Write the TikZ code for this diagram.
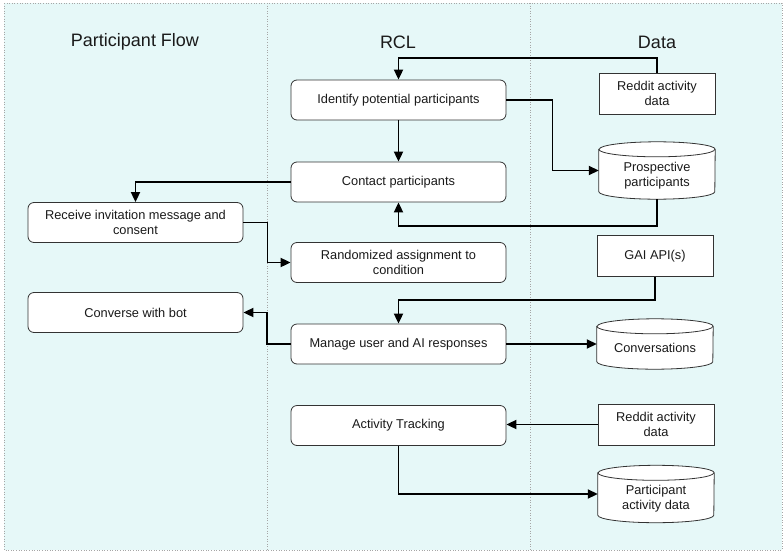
\documentclass[tikz,border=0pt]{standalone}
\usepackage{fontspec}
\setmainfont{Liberation Sans}
\usetikzlibrary{arrows.meta,calc}
\definecolor{bgc}{HTML}{E6F8F8}
\definecolor{edge}{HTML}{333333}
\definecolor{txt}{HTML}{1A1A1A}
\tikzset{
  proc/.style={draw=edge, line width=0.8pt, fill=white, rounded corners=6pt, minimum width=215pt, minimum height=40pt, align=center, font=\fontsize{12.8}{15}\selectfont, text=txt, inner sep=2pt},
  datab/.style={draw=edge, line width=0.8pt, fill=white, minimum width=116pt, minimum height=41pt, align=center, font=\fontsize{12.8}{15}\selectfont, text=txt, inner sep=2pt},
  cylnode/.style={minimum width=116pt, align=center, font=\fontsize{12.8}{15}\selectfont, text=txt, inner sep=0pt},
  lanetitle/.style={font=\fontsize{18}{21}\selectfont, text=txt},
  arr/.style={line width=1.8pt, -{Triangle[length=10pt,width=9pt]}},
  lane/.style={draw=gray!70, line width=0.6pt, dotted}
}
\newcommand{\dbcyl}[1]{%
  \draw[draw=edge, line width=0.8pt, fill=white]
    ($(#1.north west)+(0,-7.5pt)$) -- ($(#1.south west)+(0,7.5pt)$)
    arc[start angle=180, end angle=360, x radius=58pt, y radius=7.5pt]
    -- ($(#1.north east)+(0,-7.5pt)$)
    arc[start angle=0, end angle=180, x radius=58pt, y radius=7.5pt] -- cycle;
  \draw[draw=edge, line width=0.8pt]
    ($(#1.north west)+(0,-7.5pt)$)
    arc[start angle=180, end angle=360, x radius=58pt, y radius=7.5pt];
}
\begin{document}
\begin{tikzpicture}[x=1pt, y=-1pt]
\useasboundingbox (0,0) rectangle (784,552);
\fill[bgc] (4,3) rectangle (782,550);
\draw[lane] (4,3) rectangle (782,550);
\draw[lane] (267,3) -- (267,550);
\draw[lane] (530,3) -- (530,550);

\node[lanetitle] (t1) at (135,42) {Participant Flow};
\node[lanetitle] (t2) at (398,42) {RCL};
\node[lanetitle] (t3) at (657,42) {Data};

% RCL lane
\node[proc] (id) at (398.5,100) {Identify potential participants};
\node[proc] (ct) at (398.5,182) {Contact participants};
\node[proc] (rd) at (398.5,262.5) {Randomized assignment to\\condition};
\node[proc] (mg) at (398.5,344) {Manage user and AI responses};
\node[proc] (at) at (398.5,425.5) {Activity Tracking};

% Participant lane
\node[proc] (rc) at (135.5,222.5) {Receive invitation message and\\consent};
\node[proc] (cv) at (135.5,312.5) {Converse with bot};

% Data lane
\node[datab] (r1) at (657,93.5) {Reddit activity\\data};
\node[cylnode, minimum height=57pt] (pp) at (657,170.5) {};
\dbcyl{pp}
\node[cylnode] (ppt) at (657,175.5) {Prospective\\participants};
\node[datab] (gai) at (655,256) {GAI API(s)};
\node[cylnode, minimum height=50pt] (cs) at (655,344) {};
\dbcyl{cs}
\node[cylnode] (cst) at (655,348) {Conversations};
\node[datab] (r2) at (656,424.5) {Reddit activity\\data};
\node[cylnode, minimum height=57pt] (pa) at (656,494) {};
\dbcyl{pa}
\node[cylnode] (pat) at (656,499) {Participant\\activity data};

% connectors
\draw[arr] (r1.north) -- ++(0,-15) -| (id.north);
\draw[arr] (id.east) -- ++(46,0) |- (pp.west);
\draw[arr] (id.south) -- (ct.north);
\draw[arr] (pp.south) -- ++(0,27) -| (ct.south);
\draw[arr] (ct.west) -| (rc.north);
\draw[arr] (rc.east) -- ++(24,0) |- (rd.west);
\draw[arr] (gai.south) -- ++(0,23) -| (mg.north);
\draw[arr] (mg.west) -- ++(-24,0) |- (cv.east);
\draw[arr] (mg.east) -- (cs.west);
\draw[arr] (r2.west) -- (r2.west -| at.east);
\draw[arr] (at.south) |- (pa.west);
\end{tikzpicture}
\end{document}
